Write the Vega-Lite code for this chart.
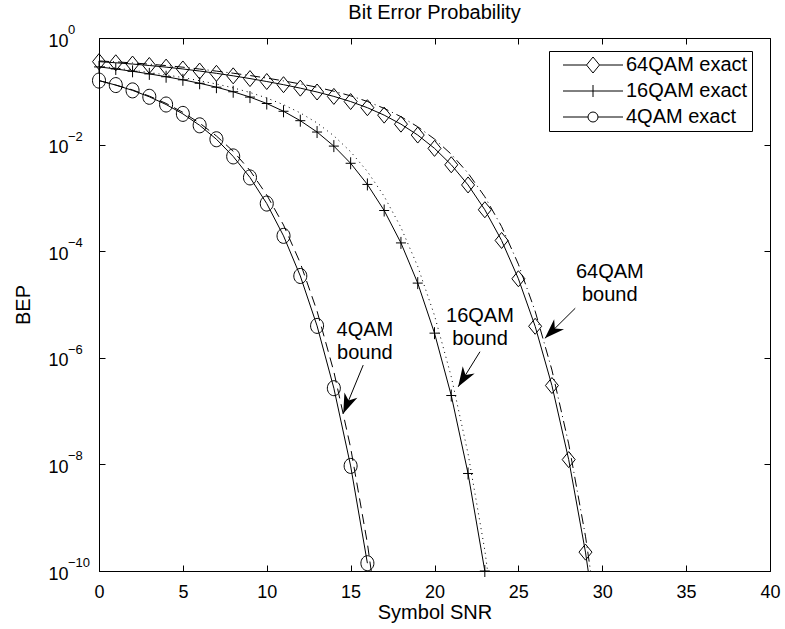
{
  "$schema": "https://vega.github.io/schema/vega-lite/v6.json",
  "width": 671,
  "height": 533,
  "autosize": {"type": "none"},
  "padding": {"left": 99, "top": 38, "right": 15, "bottom": 58},
  "background": "white",
  "config": {
    "view": {"stroke": "black", "strokeWidth": 1},
    "font": "Liberation Sans",
    "axis": {"grid": false, "labelFont": "Liberation Sans", "titleFont": "Liberation Sans", "labelColor": "black", "titleColor": "black", "tickColor": "black", "domainColor": "black", "titleFontWeight": "normal", "tickWidth": 1, "domainWidth": 1, "labelFlush": false}
  },
  "title": {"text": "Bit Error Probability", "fontSize": 20, "fontWeight": "normal", "font": "Liberation Sans", "color": "black", "anchor": "middle", "offset": 1},
  "datasets": {
    "exact": [
      {"series": "64QAM exact", "snr": 0, "bep": 0.36}, {"series": "64QAM exact", "snr": 1, "bep": 0.343}, {"series": "64QAM exact", "snr": 2, "bep": 0.3245}, {"series": "64QAM exact", "snr": 3, "bep": 0.305}, {"series": "64QAM exact", "snr": 4, "bep": 0.284}, {"series": "64QAM exact", "snr": 5, "bep": 0.2625}, {"series": "64QAM exact", "snr": 6, "bep": 0.24}, {"series": "64QAM exact", "snr": 7, "bep": 0.2174}, {"series": "64QAM exact", "snr": 8, "bep": 0.195}, {"series": "64QAM exact", "snr": 9, "bep": 0.1733}, {"series": "64QAM exact", "snr": 10, "bep": 0.1526}, {"series": "64QAM exact", "snr": 11, "bep": 0.133}, {"series": "64QAM exact", "snr": 12, "bep": 0.1146}, {"series": "64QAM exact", "snr": 13, "bep": 0.097}, {"series": "64QAM exact", "snr": 14, "bep": 0.0802}, {"series": "64QAM exact", "snr": 15, "bep": 0.0642}, {"series": "64QAM exact", "snr": 16, "bep": 0.0492}, {"series": "64QAM exact", "snr": 17, "bep": 0.0357}, {"series": "64QAM exact", "snr": 18, "bep": 0.0242}, {"series": "64QAM exact", "snr": 19, "bep": 0.0151}, {"series": "64QAM exact", "snr": 20, "bep": 0.00849}, {"series": "64QAM exact", "snr": 21, "bep": 0.00418}, {"series": "64QAM exact", "snr": 22, "bep": 0.00175}, {"series": "64QAM exact", "snr": 23, "bep": 0.000599}, {"series": "64QAM exact", "snr": 24, "bep": 0.000159}, {"series": "64QAM exact", "snr": 25, "bep": 3.04e-5}, {"series": "64QAM exact", "snr": 26, "bep": 3.9e-6}, {"series": "64QAM exact", "snr": 27, "bep": 3.02e-7}, {"series": "64QAM exact", "snr": 28, "bep": 1.23e-8}, {"series": "64QAM exact", "snr": 29, "bep": 2.26e-10}, {"series": "64QAM exact", "snr": 30, "bep": 1.5e-12},
      {"series": "16QAM exact", "snr": 0, "bep": 0.287}, {"series": "16QAM exact", "snr": 1, "bep": 0.2625}, {"series": "16QAM exact", "snr": 2, "bep": 0.2372}, {"series": "16QAM exact", "snr": 3, "bep": 0.2122}, {"series": "16QAM exact", "snr": 4, "bep": 0.1877}, {"series": "16QAM exact", "snr": 5, "bep": 0.1642}, {"series": "16QAM exact", "snr": 6, "bep": 0.1414}, {"series": "16QAM exact", "snr": 7, "bep": 0.1195}, {"series": "16QAM exact", "snr": 8, "bep": 0.0981}, {"series": "16QAM exact", "snr": 9, "bep": 0.0779}, {"series": "16QAM exact", "snr": 10, "bep": 0.059}, {"series": "16QAM exact", "snr": 11, "bep": 0.0422}, {"series": "16QAM exact", "snr": 12, "bep": 0.0281}, {"series": "16QAM exact", "snr": 13, "bep": 0.0172}, {"series": "16QAM exact", "snr": 14, "bep": 0.00937}, {"series": "16QAM exact", "snr": 15, "bep": 0.00446}, {"series": "16QAM exact", "snr": 16, "bep": 0.00179}, {"series": "16QAM exact", "snr": 17, "bep": 0.00058}, {"series": "16QAM exact", "snr": 18, "bep": 0.000143}, {"series": "16QAM exact", "snr": 19, "bep": 2.52e-5}, {"series": "16QAM exact", "snr": 20, "bep": 2.9e-6}, {"series": "16QAM exact", "snr": 21, "bep": 1.96e-7}, {"series": "16QAM exact", "snr": 22, "bep": 6.75e-9}, {"series": "16QAM exact", "snr": 23, "bep": 1.0e-10},
      {"series": "4QAM exact", "snr": 0, "bep": 0.1587}, {"series": "4QAM exact", "snr": 1, "bep": 0.1309}, {"series": "4QAM exact", "snr": 2, "bep": 0.104}, {"series": "4QAM exact", "snr": 3, "bep": 0.0789}, {"series": "4QAM exact", "snr": 4, "bep": 0.0565}, {"series": "4QAM exact", "snr": 5, "bep": 0.0377}, {"series": "4QAM exact", "snr": 6, "bep": 0.023}, {"series": "4QAM exact", "snr": 7, "bep": 0.0126}, {"series": "4QAM exact", "snr": 8, "bep": 0.006}, {"series": "4QAM exact", "snr": 9, "bep": 0.00242}, {"series": "4QAM exact", "snr": 10, "bep": 0.000783}, {"series": "4QAM exact", "snr": 11, "bep": 0.000194}, {"series": "4QAM exact", "snr": 12, "bep": 3.43e-5}, {"series": "4QAM exact", "snr": 13, "bep": 3.97e-6}, {"series": "4QAM exact", "snr": 14, "bep": 2.69e-7}, {"series": "4QAM exact", "snr": 15, "bep": 9.36e-9}, {"series": "4QAM exact", "snr": 16, "bep": 1.4e-10}
    ],
    "bound": [
      {"series": "64QAM bound", "snr": 0, "bep": 0.371}, {"series": "64QAM bound", "snr": 1, "bep": 0.357}, {"series": "64QAM bound", "snr": 2, "bep": 0.341}, {"series": "64QAM bound", "snr": 3, "bep": 0.323}, {"series": "64QAM bound", "snr": 4, "bep": 0.304}, {"series": "64QAM bound", "snr": 5, "bep": 0.2835}, {"series": "64QAM bound", "snr": 6, "bep": 0.2616}, {"series": "64QAM bound", "snr": 7, "bep": 0.2391}, {"series": "64QAM bound", "snr": 8, "bep": 0.2184}, {"series": "64QAM bound", "snr": 9, "bep": 0.1976}, {"series": "64QAM bound", "snr": 10, "bep": 0.177}, {"series": "64QAM bound", "snr": 11, "bep": 0.1569}, {"series": "64QAM bound", "snr": 12, "bep": 0.1375}, {"series": "64QAM bound", "snr": 13, "bep": 0.1193}, {"series": "64QAM bound", "snr": 14, "bep": 0.1003}, {"series": "64QAM bound", "snr": 15, "bep": 0.0822}, {"series": "64QAM bound", "snr": 16, "bep": 0.0644}, {"series": "64QAM bound", "snr": 17, "bep": 0.0478}, {"series": "64QAM bound", "snr": 18, "bep": 0.0334}, {"series": "64QAM bound", "snr": 19, "bep": 0.0216}, {"series": "64QAM bound", "snr": 20, "bep": 0.0127}, {"series": "64QAM bound", "snr": 21, "bep": 0.0066}, {"series": "64QAM bound", "snr": 22, "bep": 0.00292}, {"series": "64QAM bound", "snr": 23, "bep": 0.00105}, {"series": "64QAM bound", "snr": 24, "bep": 0.00029}, {"series": "64QAM bound", "snr": 25, "bep": 5.7e-5}, {"series": "64QAM bound", "snr": 26, "bep": 7.5e-6}, {"series": "64QAM bound", "snr": 27, "bep": 5.9e-7}, {"series": "64QAM bound", "snr": 28, "bep": 2.43e-8}, {"series": "64QAM bound", "snr": 29, "bep": 4.5e-10}, {"series": "64QAM bound", "snr": 30, "bep": 3.0e-12},
      {"series": "16QAM bound", "snr": 0, "bep": 0.296}, {"series": "16QAM bound", "snr": 1, "bep": 0.273}, {"series": "16QAM bound", "snr": 2, "bep": 0.249}, {"series": "16QAM bound", "snr": 3, "bep": 0.225}, {"series": "16QAM bound", "snr": 4, "bep": 0.203}, {"series": "16QAM bound", "snr": 5, "bep": 0.181}, {"series": "16QAM bound", "snr": 6, "bep": 0.158}, {"series": "16QAM bound", "snr": 7, "bep": 0.137}, {"series": "16QAM bound", "snr": 8, "bep": 0.116}, {"series": "16QAM bound", "snr": 9, "bep": 0.095}, {"series": "16QAM bound", "snr": 10, "bep": 0.0749}, {"series": "16QAM bound", "snr": 11, "bep": 0.0561}, {"series": "16QAM bound", "snr": 12, "bep": 0.0393}, {"series": "16QAM bound", "snr": 13, "bep": 0.0255}, {"series": "16QAM bound", "snr": 14, "bep": 0.01462}, {"series": "16QAM bound", "snr": 15, "bep": 0.00736}, {"series": "16QAM bound", "snr": 16, "bep": 0.00313}, {"series": "16QAM bound", "snr": 17, "bep": 0.00107}, {"series": "16QAM bound", "snr": 18, "bep": 0.000279}, {"series": "16QAM bound", "snr": 19, "bep": 5.17e-5}, {"series": "16QAM bound", "snr": 20, "bep": 6.24e-6}, {"series": "16QAM bound", "snr": 21, "bep": 4.41e-7}, {"series": "16QAM bound", "snr": 22, "bep": 1.59e-8}, {"series": "16QAM bound", "snr": 23, "bep": 2.45e-10}, {"series": "16QAM bound", "snr": 24, "bep": 1.0e-12},
      {"series": "4QAM bound", "snr": 0, "bep": 0.1587}, {"series": "4QAM bound", "snr": 1, "bep": 0.1309}, {"series": "4QAM bound", "snr": 2, "bep": 0.1061}, {"series": "4QAM bound", "snr": 3, "bep": 0.0813}, {"series": "4QAM bound", "snr": 4, "bep": 0.0593}, {"series": "4QAM bound", "snr": 5, "bep": 0.0403}, {"series": "4QAM bound", "snr": 6, "bep": 0.0253}, {"series": "4QAM bound", "snr": 7, "bep": 0.0145}, {"series": "4QAM bound", "snr": 8, "bep": 0.0075}, {"series": "4QAM bound", "snr": 9, "bep": 0.00327}, {"series": "4QAM bound", "snr": 10, "bep": 0.001135}, {"series": "4QAM bound", "snr": 11, "bep": 0.00031}, {"series": "4QAM bound", "snr": 12, "bep": 6.0e-5}, {"series": "4QAM bound", "snr": 13, "bep": 7.5e-6}, {"series": "4QAM bound", "snr": 14, "bep": 5.5e-7}, {"series": "4QAM bound", "snr": 15, "bep": 2.06e-8}, {"series": "4QAM bound", "snr": 16, "bep": 3.3e-10}, {"series": "4QAM bound", "snr": 17, "bep": 1.7e-12}
    ],
    "notes": [
      {"snr": 15.85, "bep": 3.32e-6, "text": ["4QAM", "bound"]},
      {"snr": 22.71, "bep": 6.21e-6, "text": ["16QAM", "bound"]},
      {"snr": 30.45, "bep": 4.0e-5, "text": ["64QAM", "bound"]}
    ],
    "arrows": [
      {"snr": 15.75, "bep": 7.3e-7, "snrTip": 14.56, "bepTip": 9.0e-8, "dir": 202.5},
      {"snr": 22.71, "bep": 1.3e-6, "snrTip": 21.41, "bepTip": 2.85e-7, "dir": 211.8},
      {"snr": 28.39, "bep": 8.5e-6, "snrTip": 26.58, "bepTip": 2.32e-6, "dir": 225.3}
    ],
    "yticks": [
      {"bep": 1, "exp": "0"}, {"bep": 0.01, "exp": "−2"}, {"bep": 0.0001, "exp": "−4"}, {"bep": 1e-6, "exp": "−6"}, {"bep": 1e-8, "exp": "−8"}, {"bep": 1e-10, "exp": "−10"}
    ]
  },
  "layer": [
    {
      "data": {"name": "exact"},
      "mark": {"type": "line", "color": "black", "strokeWidth": 1, "clip": true},
      "encoding": {
        "x": {"field": "snr", "type": "quantitative", "scale": {"domain": [0, 40], "nice": false},
          "axis": {"orient": "bottom", "values": [0, 5, 10, 15, 20, 25, 30, 35, 40], "tickSize": -6, "labelPadding": 18, "labelFontSize": 18, "title": "Symbol SNR", "titleFontSize": 20, "titlePadding": 1, "domain": true}},
        "y": {"field": "bep", "type": "quantitative", "scale": {"type": "log", "domain": [1e-10, 1], "nice": false},
          "axis": {"orient": "left", "values": [1, 0.01, 0.0001, 1e-6, 1e-8, 1e-10], "labelExpr": "'10'", "tickSize": -6, "labelPadding": 37, "labelFontSize": 18, "labelBaseline": "middle", "labelOffset": 3, "title": "BEP", "titleFontSize": 20, "titlePadding": 14, "domain": true}},
        "detail": {"field": "series", "type": "nominal"}
      }
    },
    {
      "data": {"name": "bound"},
      "mark": {"type": "line", "color": "black", "strokeWidth": 1, "clip": true},
      "encoding": {
        "x": {"field": "snr", "type": "quantitative", "axis": {"orient": "top", "values": [0, 5, 10, 15, 20, 25, 30, 35, 40], "tickSize": -6, "labels": false, "domain": false, "title": null}},
        "y": {"field": "bep", "type": "quantitative", "axis": {"orient": "right", "values": [1, 0.01, 0.0001, 1e-6, 1e-8, 1e-10], "tickSize": -6, "labels": false, "domain": false, "title": null}},
        "strokeDash": {"field": "series", "type": "nominal", "scale": {"domain": ["64QAM bound", "16QAM bound", "4QAM bound"], "range": [[10, 4, 1, 4], [1, 4], [10, 6]]}, "legend": null}
      }
    },
    {
      "data": {"name": "exact"},
      "transform": [{"filter": "datum.bep >= 1e-10"}],
      "mark": {"type": "point", "color": "black", "filled": false, "strokeWidth": 1, "opacity": 1, "size": 4},
      "encoding": {
        "x": {"field": "snr", "type": "quantitative", "axis": null},
        "y": {"field": "bep", "type": "quantitative", "axis": null},
        "shape": {"field": "series", "type": "nominal", "scale": {"domain": ["64QAM exact", "16QAM exact", "4QAM exact"], "range": ["M0,-8L6.5,0L0,8L-6.5,0Z", "M-5,0H5M0,-6V6", "M-6.5,0A6.5,7.5 0 1,0 6.5,0A6.5,7.5 0 1,0 -6.5,0Z"]}, "legend": null}
      }
    },
    {
      "data": {"values": []},
      "mark": {"type": "point", "color": "black", "filled": false, "strokeWidth": 1, "opacity": 1, "size": 4},
      "encoding": {
        "shape": {"field": "series", "type": "nominal",
          "scale": {"domain": ["64QAM exact", "16QAM exact", "4QAM exact"], "range": ["M0,0H23.5M36.5,0H60M30,-8L36.5,0L30,8L23.5,0Z", "M0,0H60M30,-6V6", "M0,0H25M35,0H60M25,0A5,5 0 1,0 35,0A5,5 0 1,0 25,0Z"]},
          "legend": {"orient": "none", "legendX": 450, "legendY": 13, "title": null, "strokeColor": "black", "fillColor": "white", "padding": 4, "cornerRadius": 0, "symbolSize": 4, "symbolStrokeWidth": 1, "symbolStrokeColor": "black", "symbolFillColor": "transparent", "symbolOpacity": 1, "labelFontSize": 20, "labelFont": "Liberation Sans", "labelColor": "black", "labelOffset": 53, "rowPadding": 6, "labelLimit": 300}}
      }
    },
    {
      "data": {"name": "notes"},
      "mark": {"type": "text", "fontSize": 20, "font": "Liberation Sans", "color": "black", "align": "center", "baseline": "middle", "lineHeight": 23},
      "encoding": {
        "x": {"field": "snr", "type": "quantitative", "axis": null},
        "y": {"field": "bep", "type": "quantitative", "axis": null},
        "text": {"field": "text"}
      }
    },
    {
      "data": {"name": "arrows"},
      "mark": {"type": "rule", "color": "black", "strokeWidth": 1},
      "encoding": {
        "x": {"field": "snr", "type": "quantitative", "axis": null},
        "y": {"field": "bep", "type": "quantitative", "axis": null},
        "x2": {"field": "snrTip"},
        "y2": {"field": "bepTip"}
      }
    },
    {
      "data": {"name": "arrows"},
      "mark": {"type": "point", "shape": "M0,0L-7,20L0,14L7,20Z", "filled": true, "color": "black", "opacity": 1, "size": 4, "strokeWidth": 0},
      "encoding": {
        "x": {"field": "snrTip", "type": "quantitative", "axis": null},
        "y": {"field": "bepTip", "type": "quantitative", "axis": null},
        "angle": {"field": "dir", "type": "quantitative", "scale": null}
      }
    },
    {
      "data": {"name": "yticks"},
      "mark": {"type": "text", "fontSize": 13, "font": "Liberation Sans", "color": "black", "align": "left", "baseline": "middle", "dx": -31, "dy": -8},
      "encoding": {
        "x": {"datum": 0, "type": "quantitative", "axis": null},
        "y": {"field": "bep", "type": "quantitative", "axis": null},
        "text": {"field": "exp"}
      }
    }
  ],
  "resolve": {"scale": {"shape": "independent"}, "axis": {"x": "independent", "y": "independent"}}
}
